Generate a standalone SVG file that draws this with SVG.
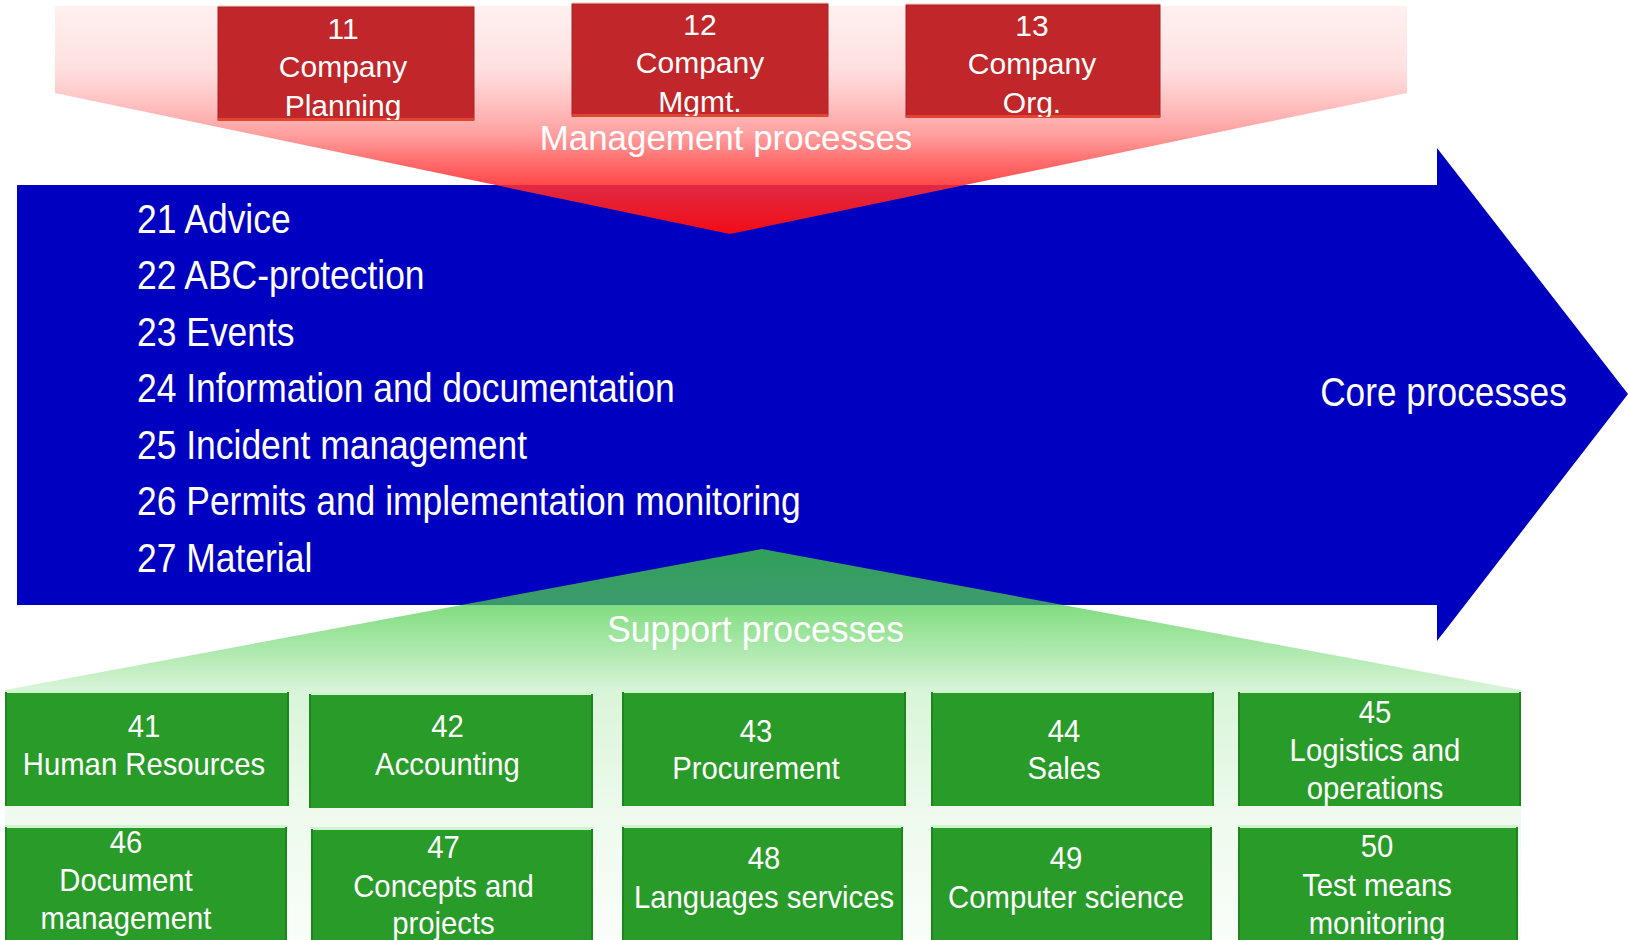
<svg xmlns="http://www.w3.org/2000/svg" width="1628" height="940" viewBox="0 0 1628 940">
<style>
text{font-family:"Liberation Sans",Arial,sans-serif;fill:#fff}
.rb{fill:#C1272A;stroke:#A82222;stroke-width:1}
.rt{fill:#FBE3D3}
.rbt{fill:#E2452F}
.gb{fill:#299B29}
.gt{fill:#CFF5CF}
.gs{fill:#1C861C}
.rtx{font-size:30px}
.gtx{font-size:30.5px}
.core{font-size:40.5px}
</style>
<defs>
<linearGradient id="redg" gradientUnits="userSpaceOnUse" x1="0" y1="6" x2="0" y2="234">
<stop offset="0" stop-color="rgb(255,180,180)" stop-opacity="0.2"/>
<stop offset="0.27" stop-color="rgb(255,166,166)" stop-opacity="0.35"/>
<stop offset="0.41" stop-color="rgb(255,137,137)" stop-opacity="0.5"/>
<stop offset="0.56" stop-color="rgb(255,109,109)" stop-opacity="0.65"/>
<stop offset="0.675" stop-color="rgb(255,76,76)" stop-opacity="0.8"/>
<stop offset="0.785" stop-color="rgb(255,47,50)" stop-opacity="0.88"/>
<stop offset="1" stop-color="rgb(255,12,12)" stop-opacity="0.95"/>
</linearGradient>
<linearGradient id="greeng" gradientUnits="userSpaceOnUse" x1="0" y1="549" x2="0" y2="940">
<stop offset="0" stop-color="rgb(60,200,62)" stop-opacity="0.8"/>
<stop offset="0.13" stop-color="rgb(80,207,80)" stop-opacity="0.75"/>
<stop offset="0.284" stop-color="rgb(80,207,80)" stop-opacity="0.41"/>
<stop offset="0.36" stop-color="rgb(80,207,80)" stop-opacity="0.22"/>
<stop offset="0.68" stop-color="rgb(80,207,80)" stop-opacity="0.1"/>
<stop offset="1" stop-color="rgb(80,207,80)" stop-opacity="0.03"/>
</linearGradient>
<clipPath id="c11"><rect x="218" y="0" width="256" height="120"/></clipPath>
<clipPath id="c12"><rect x="572" y="0" width="256" height="116"/></clipPath>
<clipPath id="c13"><rect x="906" y="0" width="254" height="117"/></clipPath>
<clipPath id="crow1"><rect x="0" y="690" width="1628" height="116"/></clipPath>
<clipPath id="crow2"><rect x="0" y="826" width="1628" height="114"/></clipPath>
</defs>

<g id="core">
<path d="M17,185 H1437 V148 L1628,394 L1437,641 V605 H17 Z" fill="#0000C0"/>
</g>

<g id="management">
<path d="M55,6 H1407 V93 L730,234 L55,93 Z" fill="url(#redg)"/>
</g>

<g id="support">
<path d="M762,549 L1521,690 V940 H5 V690 Z" fill="url(#greeng)"/>
</g>

<g id="node-11">
<rect class="rt" x="218" y="5" width="256" height="3"/>
<rect class="rb" x="218" y="7" width="256" height="113"/>
<rect class="rbt" x="218" y="118" width="256" height="3"/>
<g clip-path="url(#c11)"><text class="rtx" text-anchor="middle" transform="translate(343,0)"><tspan x="0" y="39">11</tspan><tspan x="0" y="77">Company</tspan><tspan x="0" y="116">Planning</tspan></text></g>
</g>
<g id="node-12">
<rect class="rt" x="572" y="2" width="256" height="3"/>
<rect class="rb" x="572" y="4" width="256" height="112"/>
<rect class="rbt" x="572" y="114" width="256" height="3"/>
<g clip-path="url(#c12)"><text class="rtx" text-anchor="middle" transform="translate(700,0)"><tspan x="0" y="35">12</tspan><tspan x="0" y="73">Company</tspan><tspan x="0" y="112">Mgmt.</tspan></text></g>
</g>
<g id="node-13">
<rect class="rt" x="906" y="3" width="254" height="3"/>
<rect class="rb" x="906" y="5" width="254" height="112"/>
<rect class="rbt" x="906" y="115" width="254" height="3"/>
<g clip-path="url(#c13)"><text class="rtx" text-anchor="middle" transform="translate(1032,0)"><tspan x="0" y="36">13</tspan><tspan x="0" y="74">Company</tspan><tspan x="0" y="113">Org.</tspan></text></g>
</g>

<g id="label-management"><text font-size="36" text-anchor="middle" transform="translate(726,150) scale(0.97,1)">Management processes</text></g>
<g id="label-core"><text class="core" text-anchor="middle" transform="translate(1443.5,406) scale(0.87,1)">Core processes</text></g>
<g id="label-support"><text font-size="37.5" text-anchor="middle" transform="translate(755.5,642) scale(0.95,1)">Support processes</text></g>

<g id="core-list">
<text class="core" transform="translate(137,0) scale(0.875,1)">
<tspan x="0" y="233">21 Advice</tspan>
<tspan x="0" y="289.5">22 ABC-protection</tspan>
<tspan x="0" y="346">23 Events</tspan>
<tspan x="0" y="402.5">24 Information and documentation</tspan>
<tspan x="0" y="459">25 Incident management</tspan>
<tspan x="0" y="515.5">26 Permits and implementation monitoring</tspan>
<tspan x="0" y="572">27 Material</tspan>
</text>
</g>

<g id="node-41">
<rect class="gb" x="5" y="692" width="284" height="114"/>
<rect class="gt" x="5" y="690" width="284" height="3"/>
<rect class="gs" x="5" y="692" width="2" height="114"/><rect class="gs" x="287" y="692" width="2" height="114"/>
<g clip-path="url(#crow1)"><text class="gtx" text-anchor="middle" transform="translate(144,0) scale(0.96,1)"><tspan x="0" y="737">41</tspan><tspan x="0" y="775">Human Resources</tspan></text></g>
</g>
<g id="node-42">
<rect class="gb" x="309" y="694" width="284" height="114"/>
<rect class="gt" x="309" y="692" width="284" height="3"/>
<rect class="gs" x="309" y="694" width="2" height="114"/><rect class="gs" x="591" y="694" width="2" height="114"/>
<g clip-path="url(#crow1)"><text class="gtx" text-anchor="middle" transform="translate(447.5,0) scale(0.96,1)"><tspan x="0" y="737">42</tspan><tspan x="0" y="775">Accounting</tspan></text></g>
</g>
<g id="node-43">
<rect class="gb" x="622" y="692" width="284" height="114"/>
<rect class="gt" x="622" y="690" width="284" height="3"/>
<rect class="gs" x="622" y="692" width="2" height="114"/><rect class="gs" x="904" y="692" width="2" height="114"/>
<g clip-path="url(#crow1)"><text class="gtx" text-anchor="middle" transform="translate(756,0) scale(0.96,1)"><tspan x="0" y="742">43</tspan><tspan x="0" y="779">Procurement</tspan></text></g>
</g>
<g id="node-44">
<rect class="gb" x="931" y="692" width="283" height="114"/>
<rect class="gt" x="931" y="690" width="283" height="3"/>
<rect class="gs" x="931" y="692" width="2" height="114"/><rect class="gs" x="1212" y="692" width="2" height="114"/>
<g clip-path="url(#crow1)"><text class="gtx" text-anchor="middle" transform="translate(1064,0) scale(0.96,1)"><tspan x="0" y="742">44</tspan><tspan x="0" y="779">Sales</tspan></text></g>
</g>
<g id="node-45">
<rect class="gb" x="1238" y="692" width="283" height="114"/>
<rect class="gt" x="1238" y="690" width="283" height="3"/>
<rect class="gs" x="1238" y="692" width="2" height="114"/><rect class="gs" x="1519" y="692" width="2" height="114"/>
<g clip-path="url(#crow1)"><text class="gtx" text-anchor="middle" transform="translate(1375,0) scale(0.96,1)"><tspan x="0" y="723">45</tspan><tspan x="0" y="761">Logistics and</tspan><tspan x="0" y="799">operations</tspan></text></g>
</g>

<g id="node-46">
<rect class="gb" x="5" y="827" width="282" height="113"/>
<rect class="gt" x="5" y="825" width="282" height="3"/>
<rect class="gs" x="5" y="827" width="2" height="113"/><rect class="gs" x="285" y="827" width="2" height="113"/>
<g clip-path="url(#crow2)"><text class="gtx" text-anchor="middle" transform="translate(126,0) scale(0.96,1)"><tspan x="0" y="853">46</tspan><tspan x="0" y="891">Document</tspan><tspan x="0" y="929">management</tspan></text></g>
</g>
<g id="node-47">
<rect class="gb" x="311" y="829" width="282" height="111"/>
<rect class="gt" x="311" y="827" width="282" height="3"/>
<rect class="gs" x="311" y="829" width="2" height="111"/><rect class="gs" x="591" y="829" width="2" height="111"/>
<g clip-path="url(#crow2)"><text class="gtx" text-anchor="middle" transform="translate(443.5,0) scale(0.96,1)"><tspan x="0" y="858">47</tspan><tspan x="0" y="897">Concepts and</tspan><tspan x="0" y="934">projects</tspan></text></g>
</g>
<g id="node-48">
<rect class="gb" x="622" y="827" width="281" height="113"/>
<rect class="gt" x="622" y="825" width="281" height="3"/>
<rect class="gs" x="622" y="827" width="2" height="113"/><rect class="gs" x="901" y="827" width="2" height="113"/>
<g clip-path="url(#crow2)"><text class="gtx" text-anchor="middle" transform="translate(764,0) scale(0.96,1)"><tspan x="0" y="869">48</tspan><tspan x="0" y="908">Languages services</tspan></text></g>
</g>
<g id="node-49">
<rect class="gb" x="931" y="827" width="281" height="113"/>
<rect class="gt" x="931" y="825" width="281" height="3"/>
<rect class="gs" x="931" y="827" width="2" height="113"/><rect class="gs" x="1210" y="827" width="2" height="113"/>
<g clip-path="url(#crow2)"><text class="gtx" text-anchor="middle" transform="translate(1066,0) scale(0.96,1)"><tspan x="0" y="869">49</tspan><tspan x="0" y="908">Computer science</tspan></text></g>
</g>
<g id="node-50">
<rect class="gb" x="1238" y="827" width="280" height="113"/>
<rect class="gt" x="1238" y="825" width="280" height="3"/>
<rect class="gs" x="1238" y="827" width="2" height="113"/><rect class="gs" x="1516" y="827" width="2" height="113"/>
<g clip-path="url(#crow2)"><text class="gtx" text-anchor="middle" transform="translate(1377,0) scale(0.96,1)"><tspan x="0" y="857">50</tspan><tspan x="0" y="896">Test means</tspan><tspan x="0" y="934">monitoring</tspan></text></g>
</g>

<g id="connectors"></g>
</svg>
